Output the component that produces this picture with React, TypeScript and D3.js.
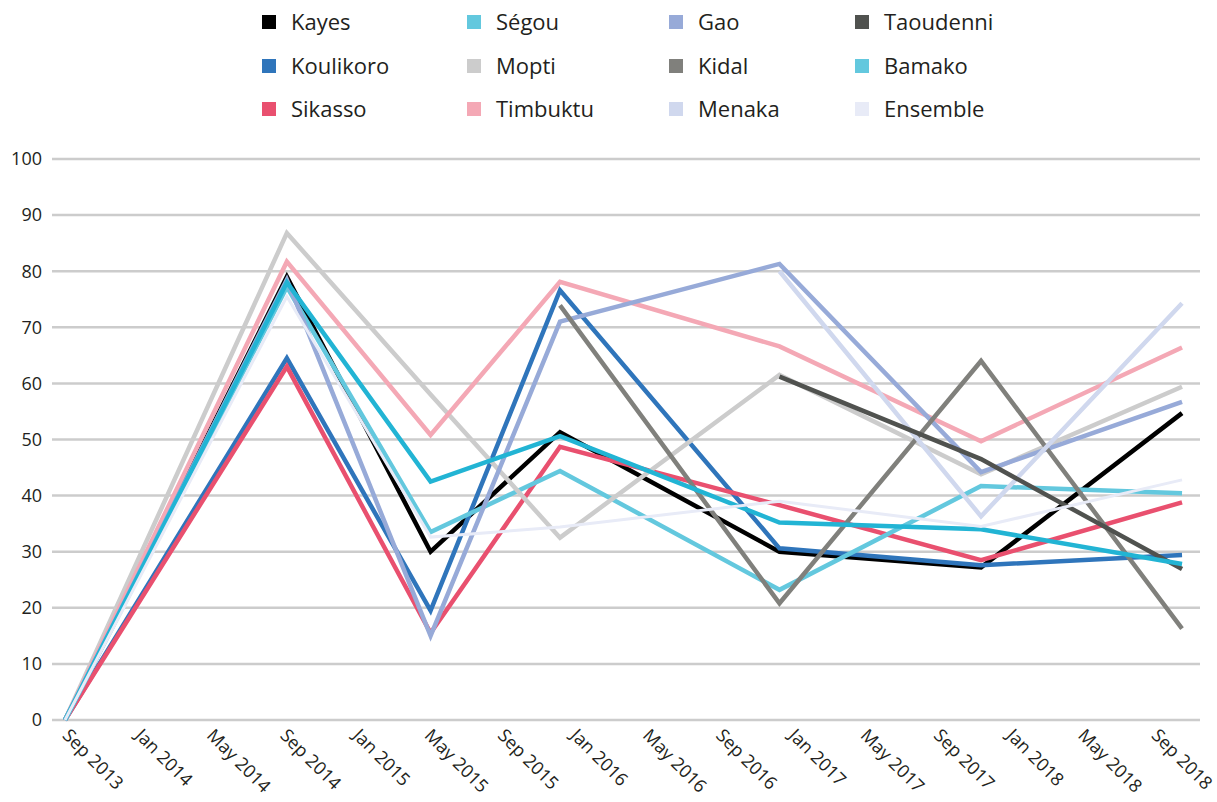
import React from 'react';
import * as d3 from 'd3';

// survey dates (x) and values per region (y), null = no survey
const surveyDates = ['2013-09-01', '2014-09-08', '2015-05-07', '2015-12-10', '2016-12-12', '2017-11-15', '2018-10-18'];

const kayes = [0, 79, 30, 51.3, 30, 27.2, 54.7];
const koulikoro = [0, 64.5, 19.5, 76.6, 30.6, 27.6, 29.4];
const sikasso = [0, 63, 15.5, 48.7, 38.3, 28.5, 38.8];
const segou = [0, 77.2, 33.5, 44.4, 23.2, 41.7, 40.4];
const mopti = [0, 86.8, 58, 32.5, 61.5, 43.8, 59.4];
const timbuktu = [0, 81.7, 50.8, 78.1, 66.6, 49.7, 66.4];
const gao = [0, 78.5, 15, 71, 81.3, 44.2, 56.7];
const kidal = [null, null, null, 73.9, 20.8, 64, 16.3];
const menaka = [null, null, null, null, 80, 36.3, 74.3];
const taoudenni = [null, null, null, null, 61.2, 46.5, 26.9];
const bamako = [0, 78, 42.5, 50.6, 35.2, 34, 27.8];
const ensemble = [0, 75.5, 32.6, 34.4, 39, 34.5, 42.8];

const seriesNames = ['Kayes', 'Koulikoro', 'Sikasso', 'Ségou', 'Mopti', 'Timbuktu', 'Gao', 'Kidal', 'Menaka', 'Taoudenni', 'Bamako', 'Ensemble'];
const seriesValues = [kayes, koulikoro, sikasso, segou, mopti, timbuktu, gao, kidal, menaka, taoudenni, bamako, ensemble];
const seriesColors = ['#000000', '#2f75bb', '#e9506f', '#63c8de', '#cccccc', '#f4a8b5', '#97aad8', '#80807c', '#d0d8ee', '#50524f', '#22b4d4', '#e8ebf7'];
const legendColors = ['#000000', '#2f75bb', '#e9506f', '#63c8de', '#cccccc', '#f4a8b5', '#97aad8', '#80807c', '#d0d8ee', '#50524f', '#63c8de', '#e8ebf7'];

const yTicks = [0, 10, 20, 30, 40, 50, 60, 70, 80, 90, 100];

const FONT = "'Open Sans', 'Noto Sans', sans-serif";
const TEXT = '#231f20';

interface Point {
  date: Date;
  value: number | null;
}

export default function App() {
  const WIDTH = 1217;
  const HEIGHT = 802;

  const gridLeft = 52;
  const gridRight = 1200;

  const parse = d3.timeParse('%Y-%m-%d');
  const dates = surveyDates.map(d => parse(d) as Date);

  const xScale = d3
    .scaleTime()
    .domain([new Date(2013, 8, 1), new Date(2018, 8, 1)])
    .range([65, 1154]);

  const yScale = d3.scaleLinear().domain([0, 100]).range([720, 159]);

  const xTicks = d3.timeMonth.every(4)!.range(new Date(2013, 8, 1), new Date(2018, 8, 2));
  const fmt = d3.timeFormat('%b %Y');

  const line = d3
    .line<Point>()
    .defined(d => d.value !== null)
    .x(d => xScale(d.date))
    .y(d => yScale(d.value as number));

  // legend: 3 rows, filled column by column
  const legendCols = [262, 467, 669, 855];
  const legendRows = [22, 66, 109];

  return (
    <svg width={WIDTH} height={HEIGHT} style={{ position: 'absolute', left: 0, top: 0 }} fontFamily={FONT}>
      <rect width={WIDTH} height={HEIGHT} fill="#fff" />
      {/* legend */}
      <g>
        {seriesNames.map((name, i) => {
          const x = legendCols[Math.floor(i / 3)];
          const y = legendRows[i % 3];
          return (
            <g key={name}>
              <rect x={x} y={y - 7} width={14} height={14} fill={legendColors[i]} />
              <text x={x + 29} y={y} dy="0.35em" fontSize={22} fill={TEXT}>
                {name}
              </text>
            </g>
          );
        })}
      </g>

      {/* gridlines + y labels */}
      <g>
        {yTicks.map(t => (
          <g key={t}>
            <line x1={gridLeft} x2={gridRight} y1={yScale(t)} y2={yScale(t)} stroke="#cccccc" strokeWidth={2.5} />
            <text x={42} y={yScale(t)} dy="0.35em" textAnchor="end" fontSize={18} fill={TEXT}>
              {t}
            </text>
          </g>
        ))}
      </g>

      {/* x labels */}
      <g>
        {xTicks.map((d, i) => (
          <text
            key={i}
            transform={`translate(${xScale(d) + 6},${727}) rotate(45)`}
            dy="0.75em"
            fontSize={18}
            fill={TEXT}
          >
            {fmt(d)}
          </text>
        ))}
      </g>

      {/* lines */}
      <g>
        {seriesValues.map((vals, i) => {
          const pts: Point[] = vals.map((v, j) => ({ date: dates[j], value: v }));
          return (
            <path
              key={seriesNames[i]}
              d={line(pts) || ''}
              fill="none"
              stroke={seriesColors[i]}
              strokeWidth={seriesNames[i] === 'Ensemble' ? 3 : 4.5}
              strokeLinejoin="miter"
            />
          );
        })}
      </g>
    </svg>
  );
}
